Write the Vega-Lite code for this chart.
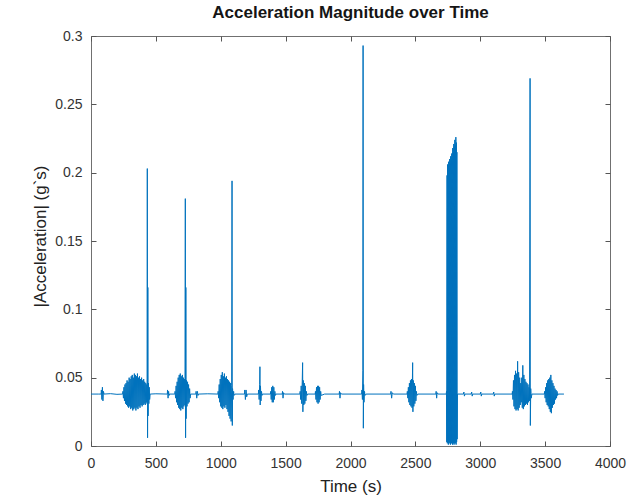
{
"$schema": "https://vega.github.io/schema/vega-lite/v6.json",
"width": 519, "height": 410,
"autosize": {"type": "none"},
"padding": {"left": 91, "top": 36, "right": 18, "bottom": 52},
"background": "white",
"config": {"view": {"stroke": "#707070", "strokeWidth": 1}, "font": "Liberation Sans"},
"title": {"text": "Acceleration Magnitude over Time", "fontSize": 17, "fontWeight": "bold", "color": "#151515", "offset": 7, "font": "Liberation Sans"},
"data": {"values": [
{"t":0,"a":0.038},{"t":60,"a":0.038},{"t":78,"a":0.038},{"t":80,"a":0.041},{"t":84,"a":0.034},{"t":88,"a":0.043},{"t":92,"a":0.033},{"t":96,"a":0.040},{"t":100,"a":0.038},{"t":150,"a":0.0383},{"t":200,"a":0.0378},{"t":244,"a":0.038},
{"t":246,"a":0.040},{"t":250,"a":0.035},{"t":254,"a":0.043},{"t":258,"a":0.033},{"t":262,"a":0.045},{"t":266,"a":0.031},{"t":270,"a":0.046},{"t":274,"a":0.030},{"t":278,"a":0.048},{"t":282,"a":0.029},{"t":286,"a":0.047},{"t":290,"a":0.028},{"t":294,"a":0.050},{"t":298,"a":0.029},{"t":302,"a":0.049},{"t":306,"a":0.027},{"t":310,"a":0.051},{"t":314,"a":0.028},{"t":318,"a":0.052},{"t":322,"a":0.026},{"t":326,"a":0.050},{"t":330,"a":0.027},{"t":334,"a":0.053},{"t":338,"a":0.028},{"t":342,"a":0.052},{"t":346,"a":0.026},{"t":350,"a":0.051},{"t":354,"a":0.028},{"t":358,"a":0.053},{"t":362,"a":0.027},{"t":366,"a":0.050},{"t":370,"a":0.029},{"t":374,"a":0.051},{"t":378,"a":0.028},{"t":382,"a":0.049},{"t":386,"a":0.030},{"t":390,"a":0.050},{"t":394,"a":0.029},{"t":398,"a":0.048},{"t":402,"a":0.030},{"t":406,"a":0.049},{"t":410,"a":0.031},{"t":414,"a":0.047},{"t":418,"a":0.030},{"t":422,"a":0.046},{"t":426,"a":0.032},{"t":430,"a":0.045},{"t":432,"a":0.031},{"t":434,"a":0.203},{"t":436,"a":0.006},{"t":438,"a":0.116},{"t":440,"a":0.022},{"t":443,"a":0.046},{"t":446,"a":0.031},{"t":449,"a":0.043},{"t":452,"a":0.034},{"t":456,"a":0.038},
{"t":500,"a":0.0382},{"t":588,"a":0.038},{"t":590,"a":0.041},{"t":594,"a":0.035},{"t":598,"a":0.040},{"t":602,"a":0.037},{"t":606,"a":0.038},{"t":646,"a":0.038},
{"t":648,"a":0.040},{"t":652,"a":0.035},{"t":656,"a":0.044},{"t":660,"a":0.032},{"t":664,"a":0.047},{"t":668,"a":0.030},{"t":672,"a":0.050},{"t":676,"a":0.028},{"t":680,"a":0.052},{"t":684,"a":0.027},{"t":688,"a":0.053},{"t":692,"a":0.026},{"t":696,"a":0.051},{"t":700,"a":0.028},{"t":704,"a":0.052},{"t":708,"a":0.027},{"t":712,"a":0.050},{"t":716,"a":0.029},{"t":720,"a":0.049},{"t":724,"a":0.030},{"t":727,"a":0.181},{"t":729,"a":0.006},{"t":731,"a":0.116},{"t":733,"a":0.020},{"t":736,"a":0.048},{"t":740,"a":0.029},{"t":744,"a":0.047},{"t":748,"a":0.031},{"t":752,"a":0.045},{"t":756,"a":0.032},{"t":760,"a":0.042},{"t":764,"a":0.035},{"t":768,"a":0.038},
{"t":808,"a":0.038},{"t":810,"a":0.040},{"t":815,"a":0.035},{"t":820,"a":0.040},{"t":825,"a":0.037},{"t":829,"a":0.038},{"t":900,"a":0.0382},{"t":978,"a":0.038},
{"t":980,"a":0.040},{"t":984,"a":0.035},{"t":988,"a":0.045},{"t":992,"a":0.032},{"t":996,"a":0.049},{"t":1000,"a":0.029},{"t":1004,"a":0.052},{"t":1008,"a":0.028},{"t":1012,"a":0.054},{"t":1016,"a":0.027},{"t":1020,"a":0.051},{"t":1024,"a":0.029},{"t":1028,"a":0.053},{"t":1032,"a":0.028},{"t":1036,"a":0.050},{"t":1040,"a":0.030},{"t":1044,"a":0.051},{"t":1048,"a":0.027},{"t":1052,"a":0.049},{"t":1056,"a":0.025},{"t":1060,"a":0.048},{"t":1064,"a":0.022},{"t":1068,"a":0.047},{"t":1072,"a":0.020},{"t":1076,"a":0.046},{"t":1080,"a":0.018},{"t":1084,"a":0.044},{"t":1087,"a":0.194},{"t":1089,"a":0.015},{"t":1091,"a":0.042},{"t":1095,"a":0.034},{"t":1099,"a":0.040},{"t":1103,"a":0.037},{"t":1110,"a":0.038},
{"t":1183,"a":0.038},{"t":1185,"a":0.041},{"t":1190,"a":0.034},{"t":1195,"a":0.041},{"t":1200,"a":0.036},{"t":1205,"a":0.038},{"t":1290,"a":0.038},
{"t":1292,"a":0.041},{"t":1296,"a":0.034},{"t":1300,"a":0.045},{"t":1302,"a":0.058},{"t":1304,"a":0.030},{"t":1306,"a":0.044},{"t":1310,"a":0.033},{"t":1314,"a":0.040},{"t":1318,"a":0.037},{"t":1322,"a":0.038},{"t":1383,"a":0.038},
{"t":1385,"a":0.040},{"t":1389,"a":0.034},{"t":1393,"a":0.043},{"t":1397,"a":0.032},{"t":1401,"a":0.044},{"t":1405,"a":0.032},{"t":1409,"a":0.043},{"t":1413,"a":0.034},{"t":1417,"a":0.040},{"t":1421,"a":0.037},{"t":1425,"a":0.038},
{"t":1474,"a":0.038},{"t":1476,"a":0.040},{"t":1480,"a":0.035},{"t":1484,"a":0.039},{"t":1490,"a":0.038},{"t":1610,"a":0.038},
{"t":1612,"a":0.040},{"t":1616,"a":0.034},{"t":1620,"a":0.044},{"t":1624,"a":0.031},{"t":1628,"a":0.047},{"t":1631,"a":0.061},{"t":1633,"a":0.025},{"t":1636,"a":0.048},{"t":1640,"a":0.030},{"t":1644,"a":0.046},{"t":1648,"a":0.031},{"t":1652,"a":0.044},{"t":1656,"a":0.033},{"t":1660,"a":0.040},{"t":1664,"a":0.037},{"t":1670,"a":0.038},
{"t":1728,"a":0.038},{"t":1730,"a":0.040},{"t":1734,"a":0.034},{"t":1738,"a":0.043},{"t":1742,"a":0.032},{"t":1746,"a":0.044},{"t":1750,"a":0.031},{"t":1754,"a":0.044},{"t":1758,"a":0.032},{"t":1762,"a":0.043},{"t":1766,"a":0.034},{"t":1770,"a":0.040},{"t":1774,"a":0.037},{"t":1800,"a":0.038},
{"t":1913,"a":0.038},{"t":1915,"a":0.040},{"t":1919,"a":0.035},{"t":1923,"a":0.039},{"t":1930,"a":0.038},{"t":2086,"a":0.038},
{"t":2088,"a":0.041},{"t":2092,"a":0.034},{"t":2095,"a":0.055},{"t":2097,"a":0.293},{"t":2099,"a":0.013},{"t":2101,"a":0.045},{"t":2104,"a":0.032},{"t":2108,"a":0.040},{"t":2112,"a":0.037},{"t":2120,"a":0.038},
{"t":2310,"a":0.038},{"t":2312,"a":0.040},{"t":2317,"a":0.035},{"t":2322,"a":0.039},{"t":2330,"a":0.038},{"t":2436,"a":0.038},
{"t":2438,"a":0.040},{"t":2442,"a":0.035},{"t":2446,"a":0.043},{"t":2450,"a":0.032},{"t":2454,"a":0.046},{"t":2458,"a":0.030},{"t":2462,"a":0.048},{"t":2466,"a":0.029},{"t":2470,"a":0.049},{"t":2474,"a":0.028},{"t":2479,"a":0.061},{"t":2481,"a":0.025},{"t":2484,"a":0.048},{"t":2488,"a":0.029},{"t":2492,"a":0.046},{"t":2496,"a":0.031},{"t":2500,"a":0.044},{"t":2504,"a":0.033},{"t":2508,"a":0.040},{"t":2512,"a":0.037},{"t":2520,"a":0.038},
{"t":2658,"a":0.038},{"t":2660,"a":0.040},{"t":2664,"a":0.035},{"t":2668,"a":0.039},{"t":2675,"a":0.038},{"t":2738,"a":0.038},
{"t":2740,"a":0.040},{"t":2742,"a":0.003},{"t":2744,"a":0.198},{"t":2746,"a":0.002},{"t":2748,"a":0.206},{"t":2750,"a":0.003},{"t":2752,"a":0.204},{"t":2754,"a":0.001},{"t":2756,"a":0.208},{"t":2758,"a":0.002},{"t":2760,"a":0.205},{"t":2762,"a":0.003},{"t":2764,"a":0.210},{"t":2766,"a":0.002},{"t":2768,"a":0.207},{"t":2770,"a":0.001},{"t":2772,"a":0.212},{"t":2774,"a":0.003},{"t":2776,"a":0.209},{"t":2778,"a":0.002},{"t":2780,"a":0.214},{"t":2782,"a":0.002},{"t":2784,"a":0.211},{"t":2786,"a":0.001},{"t":2788,"a":0.218},{"t":2790,"a":0.003},{"t":2792,"a":0.215},{"t":2794,"a":0.002},{"t":2796,"a":0.221},{"t":2798,"a":0.001},{"t":2800,"a":0.219},{"t":2802,"a":0.002},{"t":2804,"a":0.224},{"t":2806,"a":0.003},{"t":2808,"a":0.220},{"t":2810,"a":0.002},{"t":2812,"a":0.226},{"t":2814,"a":0.001},{"t":2816,"a":0.222},{"t":2818,"a":0.003},{"t":2820,"a":0.215},{"t":2822,"a":0.005},{"t":2824,"a":0.038},
{"t":2870,"a":0.038},{"t":2874,"a":0.0395},{"t":2878,"a":0.0365},{"t":2882,"a":0.038},{"t":2930,"a":0.038},{"t":2934,"a":0.0395},{"t":2938,"a":0.0365},{"t":2942,"a":0.038},{"t":3000,"a":0.038},{"t":3004,"a":0.0395},{"t":3008,"a":0.0365},{"t":3012,"a":0.038},{"t":3100,"a":0.038},{"t":3104,"a":0.0395},{"t":3108,"a":0.0365},{"t":3112,"a":0.038},{"t":3246,"a":0.038},
{"t":3248,"a":0.040},{"t":3252,"a":0.034},{"t":3256,"a":0.048},{"t":3260,"a":0.029},{"t":3264,"a":0.052},{"t":3268,"a":0.027},{"t":3272,"a":0.055},{"t":3276,"a":0.026},{"t":3280,"a":0.053},{"t":3284,"a":0.027},{"t":3288,"a":0.062},{"t":3292,"a":0.026},{"t":3296,"a":0.054},{"t":3300,"a":0.028},{"t":3304,"a":0.050},{"t":3308,"a":0.030},{"t":3312,"a":0.046},{"t":3316,"a":0.032},{"t":3320,"a":0.050},{"t":3324,"a":0.028},{"t":3328,"a":0.059},{"t":3332,"a":0.027},{"t":3336,"a":0.052},{"t":3340,"a":0.029},{"t":3344,"a":0.049},{"t":3348,"a":0.030},{"t":3352,"a":0.047},{"t":3356,"a":0.031},{"t":3360,"a":0.046},{"t":3364,"a":0.030},{"t":3368,"a":0.045},{"t":3372,"a":0.032},{"t":3376,"a":0.043},{"t":3380,"a":0.033},{"t":3384,"a":0.269},{"t":3386,"a":0.015},{"t":3389,"a":0.042},{"t":3393,"a":0.035},{"t":3398,"a":0.038},{"t":3494,"a":0.038},
{"t":3496,"a":0.040},{"t":3500,"a":0.035},{"t":3504,"a":0.043},{"t":3508,"a":0.032},{"t":3512,"a":0.046},{"t":3516,"a":0.030},{"t":3520,"a":0.048},{"t":3524,"a":0.029},{"t":3528,"a":0.049},{"t":3532,"a":0.027},{"t":3536,"a":0.050},{"t":3540,"a":0.025},{"t":3544,"a":0.052},{"t":3548,"a":0.024},{"t":3552,"a":0.048},{"t":3556,"a":0.028},{"t":3560,"a":0.046},{"t":3564,"a":0.030},{"t":3568,"a":0.044},{"t":3572,"a":0.031},{"t":3576,"a":0.042},{"t":3580,"a":0.034},{"t":3584,"a":0.041},{"t":3588,"a":0.035},{"t":3592,"a":0.040},{"t":3596,"a":0.037},{"t":3600,"a":0.038},{"t":3645,"a":0.038}
]},
"layer": [
{"mark": {"type": "line", "color": "#0072BD", "strokeWidth": 1, "clip": true},
 "encoding": {
  "x": {"field": "t", "type": "quantitative", "sort": null,
   "scale": {"domain": [0, 4000], "nice": false, "zero": false},
   "axis": {"values": [0,500,1000,1500,2000,2500,3000,3500,4000], "format": "d", "title": "Time (s)", "grid": false, "domain": false, "labelFlush": false, "labelOverlap": false, "labelBound": false,
    "tickSize": -5, "tickColor": "#555", "labelPadding": 15, "labelFontSize": 14, "labelColor": "#333", "labelFont": "Liberation Sans",
    "titleFontSize": 17, "titleFontWeight": "normal", "titleColor": "#222", "titleFont": "Liberation Sans", "titleY": 32}},
  "y": {"field": "a", "type": "quantitative",
   "scale": {"domain": [0, 0.3], "nice": false, "zero": false},
   "axis": {"values": [0,0.05,0.1,0.15,0.2,0.25,0.3], "format": "~g", "title": "|Acceleration| (g`s)", "grid": false, "domain": false, "labelFlush": false, "labelOverlap": false,
    "tickSize": -5, "tickColor": "#555", "labelPadding": 14, "labelFontSize": 14, "labelColor": "#333", "labelFont": "Liberation Sans",
    "titleFontSize": 17, "titleFontWeight": "normal", "titleColor": "#222", "titleFont": "Liberation Sans", "titleX": -42, "titleY": 200}}
 }},
{"mark": {"type": "line", "opacity": 0},
 "encoding": {
  "x": {"field": "t", "type": "quantitative",
   "scale": {"domain": [0, 4000], "nice": false, "zero": false},
   "axis": {"orient": "top", "values": [0,500,1000,1500,2000,2500,3000,3500,4000], "title": null, "labels": false, "grid": false, "domain": false, "tickSize": -5, "tickColor": "#555"}},
  "y": {"field": "a", "type": "quantitative",
   "scale": {"domain": [0, 0.3], "nice": false, "zero": false},
   "axis": {"orient": "right", "values": [0,0.05,0.1,0.15,0.2,0.25,0.3], "title": null, "labels": false, "grid": false, "domain": false, "tickSize": -5, "tickColor": "#555"}}
 }}
],
"resolve": {"axis": {"x": "independent", "y": "independent"}}
}
